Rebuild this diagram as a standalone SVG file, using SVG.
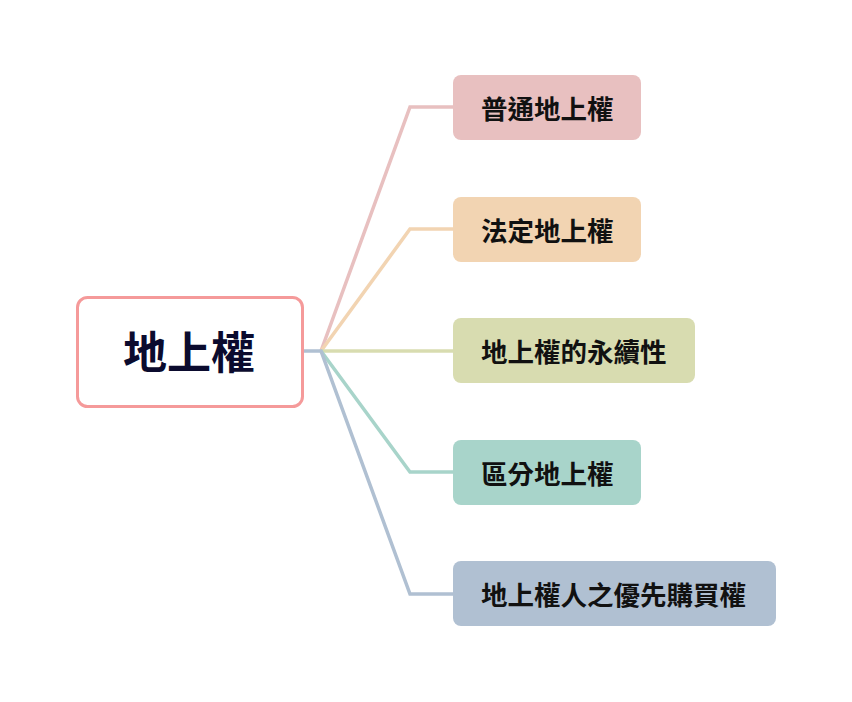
<svg xmlns="http://www.w3.org/2000/svg" width="852" height="702" viewBox="0 0 852 702">
<style>
.conn{fill:none;stroke-width:3.5;stroke-linejoin:miter}
.box{stroke:none}
.lbl{font-family:"Noto Sans CJK TC","Noto Sans CJK SC",sans-serif;font-weight:bold;font-size:26.5px;fill:#111111;dominant-baseline:central}
.root{font-family:"Noto Sans CJK TC","Noto Sans CJK SC",sans-serif;font-weight:bold;font-size:44px;fill:#0b0b2e;dominant-baseline:central;text-anchor:middle}
</style>
<rect width="852" height="702" fill="#ffffff"/>
<g id="connectors">
<path class="conn" stroke="#E8C0C0" d="M321,351 L410,107 L453,107"/>
<path class="conn" stroke="#F2D4B2" d="M321,351 L410,229 L453,229"/>
<path class="conn" stroke="#D8DCB0" d="M321,351 L453,351"/>
<path class="conn" stroke="#A8D4CA" d="M321,351 L410,472 L453,472"/>
<path class="conn" stroke="#B0C0D2" d="M303,351 L321,351 L410,594 L453,594"/>
</g>
<g id="root">
<rect x="77.5" y="297.5" width="225" height="109" rx="10" fill="#ffffff" stroke="#F59A9A" stroke-width="3"/>
<text class="root" x="189" y="350">地上權</text>
</g>
<g id="n1">
<rect class="box" x="453" y="75" width="188" height="65" rx="8" fill="#E8C0C0"/>
<text class="lbl" x="481" y="107">普通地上權</text>
</g>
<g id="n2">
<rect class="box" x="453" y="197" width="188" height="65" rx="8" fill="#F2D4B2"/>
<text class="lbl" x="481" y="229">法定地上權</text>
</g>
<g id="n3">
<rect class="box" x="453" y="318" width="242" height="65" rx="8" fill="#D8DCB0"/>
<text class="lbl" x="481" y="350">地上權的永續性</text>
</g>
<g id="n4">
<rect class="box" x="453" y="440" width="188" height="65" rx="8" fill="#A8D4CA"/>
<text class="lbl" x="481" y="472">區分地上權</text>
</g>
<g id="n5">
<rect class="box" x="453" y="561" width="323" height="65" rx="8" fill="#B0C0D2"/>
<text class="lbl" x="481" y="593">地上權人之優先購買權</text>
</g>
</svg>
